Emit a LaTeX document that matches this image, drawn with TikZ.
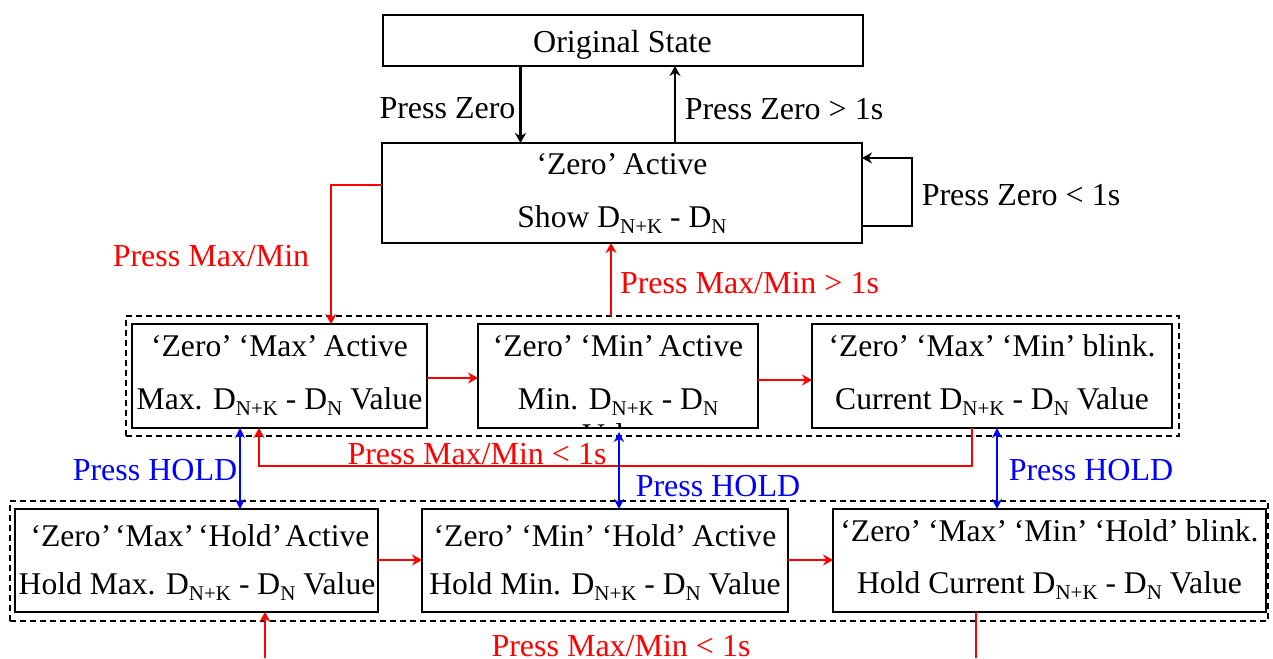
\documentclass[tikz,border=0pt]{standalone}
\usepackage{fontspec}
\setmainfont{Liberation Serif}
\usetikzlibrary{arrows.meta}
\newcommand{\subs}[1]{\raisebox{-0.2em}{\fontsize{21}{21}\selectfont #1}}
\newcommand{\DD}{D\subs{N+K} - D\subs{N}}
\newcommand{\qk}[1]{\kern-#1pt\relax}
\tikzset{
  x=1pt,y=-1pt,
  every node/.style={font=\fontsize{31.6}{34}\selectfont,inner sep=0pt,outer sep=0pt},
  state/.style={draw=black,line width=2pt,rectangle,fill=white},
  txt/.style={text=black,anchor=base},
  lab/.style={text=black,anchor=base,font=\fontsize{32}{34}\selectfont},
  group/.style={draw=black,line width=2pt,dash pattern=on 6pt off 4pt},
  blk/.style={draw=black,line width=2.6pt,-{Stealth[length=10pt,width=11pt]}},
  redarrow/.style={draw=red,line width=2.8pt,-{Stealth[length=10pt,width=11pt]}},
  bluearrow/.style={draw=blue,line width=2.4pt,{Stealth[length=10pt,width=10pt]}-{Stealth[length=10pt,width=10pt]}},
  redline/.style={draw=red,line width=2.8pt},
  redlab/.style={text=red,anchor=base,font=\fontsize{32}{34}\selectfont},
  bluelab/.style={text=blue,anchor=base,font=\fontsize{32}{34}\selectfont},
}
\begin{document}
\begin{tikzpicture}
\useasboundingbox (0,0) rectangle (1273,658);
\fill[white] (0,0) rectangle (1273,658);
% groups
\node[group,minimum width=1053pt,minimum height=120pt] (g1) at (652.5,376) {};
\node[group,minimum width=1258pt,minimum height=120pt] (g2) at (639,561) {};
% boxes
\node[state,minimum width=480pt,minimum height=51pt] (orig) at (622.5,40.5) {};
\node[state,minimum width=480pt,minimum height=100pt] (zero) at (622,193) {};
\node[state,minimum width=295pt,minimum height=104pt] (a1) at (279.5,376) {};
\node[state,minimum width=280pt,minimum height=104pt] (a2) at (618,376) {};
\node[state,minimum width=360pt,minimum height=104pt] (a3) at (992,376) {};
\node[state,minimum width=363pt,minimum height=103pt] (b1) at (196.5,560.5) {};
\node[state,minimum width=366pt,minimum height=103pt] (b2) at (605,560.5) {};
\node[state,minimum width=433pt,minimum height=103pt] (b3) at (1049.5,560.5) {};
% box text
\node[lab] (t0) at (622.5,53) {Original State};
\node[txt] (t1) at (622,174) {‘Zero’\qk{2} Active};
\node[txt] (t2) at (622,227) {Show \DD};
\node[txt] (t3) at (279.5,356) {‘Zero’\qk{1} ‘Max’\qk{2} Active};
\node[txt] (t4) at (279.5,409) {Max. \DD{} Value};
\node[txt] (t5) at (618,356) {‘Zero’\qk{1} ‘Min’\qk{3} Active};
\node[txt] (t6) at (618,409) {Min. \DD};
\begin{scope}
\clip (a2.north west) rectangle (a2.south east);
\node[txt] (t6b) at (618,445) {Value};
\end{scope}
\node[txt] (t7) at (992,356) {‘Zero’\qk{1} ‘Max’\qk{1} ‘Min’\qk{1} blink.};
\node[txt] (t8) at (992,409) {Current \DD{} Value};
\node[txt] (t9) at (200,546) {‘Zero’\qk{4} ‘Max’\qk{4} ‘Hold’\qk{5} Active};
\node[txt] (t10) at (197,594) {Hold Max. \DD{} Value};
\node[txt] (t11) at (605,546) {‘Zero’\qk{1} ‘Min’\qk{1} ‘Hold’\qk{2} Active};
\node[txt] (t12) at (605,594) {Hold Min. \DD{} Value};
\node[txt] (t13) at (1049.5,541) {‘Zero’\qk{1} ‘Max’\qk{1} ‘Min’\qk{1} ‘Hold’\qk{1} blink.};
\node[txt] (t14) at (1049.5,593) {Hold Current \DD{} Value};
% free ends and guide positions
\coordinate (c1) at (265,658);
\coordinate (c2) at (976,658);
\coordinate (l1) at (912,158);
\coordinate (l2) at (912,226);
\coordinate (r1) at (331,185);
\coordinate (r2) at (972,466);
\coordinate (r3) at (259,466);
\coordinate (r4) at (611,0);
\coordinate (h1) at (0,378);
\coordinate (h2) at (0,380);
\coordinate (h3) at (0,560);
\coordinate (u1) at (240,0);
\coordinate (u2) at (619,0);
\coordinate (u3) at (997,0);
% black
\draw[blk] ([xshift=-102pt]orig.south) -- ([xshift=-101.5pt]zero.north);
\draw[blk] ([xshift=53pt]zero.north) -- ([xshift=52.5pt]orig.south);
\draw[blk] (zero.east |- l2) -- (l2) -- (l1) -- (zero.east |- l1);
% red
\draw[redarrow] (zero.west |- r1) -- (r1) -- (r1 |- a1.north);
\draw[redarrow] (r4 |- g1.north) -- (r4 |- zero.south);
\draw[redarrow] (a1.east |- h1) -- (a2.west |- h1);
\draw[redarrow] (a2.east |- h2) -- (a3.west |- h2);
\draw[redarrow] (r2 |- a3.south) -- (r2) -- (r3) -- (r3 |- a1.south);
\draw[redarrow] (b1.east |- h3) -- (b2.west |- h3);
\draw[redarrow] (b2.east |- h3) -- (b3.west |- h3);
\draw[redarrow] (c1) -- (c1 |- b1.south);
\draw[redline] (c2 |- b3.south) -- (c2);
% blue
\draw[bluearrow] (u1 |- a1.south) -- (u1 |- b1.north);
\draw[bluearrow] ([yshift=-4pt]u2 |- a2.south) -- (u2 |- b2.north);
\draw[bluearrow] (u3 |- a3.south) -- (u3 |- b3.north);
% labels
\node[lab] (p1) at (447.5,118) {Press Zero};
\node[lab] (p2) at (784,120) {Press Zero > 1s};
\node[lab] (p3) at (1021,205) {Press Zero < 1s};
\node[redlab] (p4) at (211,266.5) {Press Max/Min};
\node[redlab] (p5) at (749.5,293.5) {Press Max/Min > 1s};
\node[redlab] (p6) at (477,464.5) {Press Max/Min < 1s};
\node[redlab] (p7) at (621,656.5) {Press Max/Min < 1s};
\node[bluelab] (p8) at (155,480.5) {Press HOLD};
\node[bluelab] (p9) at (718,496) {Press HOLD};
\node[bluelab] (p10) at (1091,480.5) {Press HOLD};
\end{tikzpicture}
\end{document}
